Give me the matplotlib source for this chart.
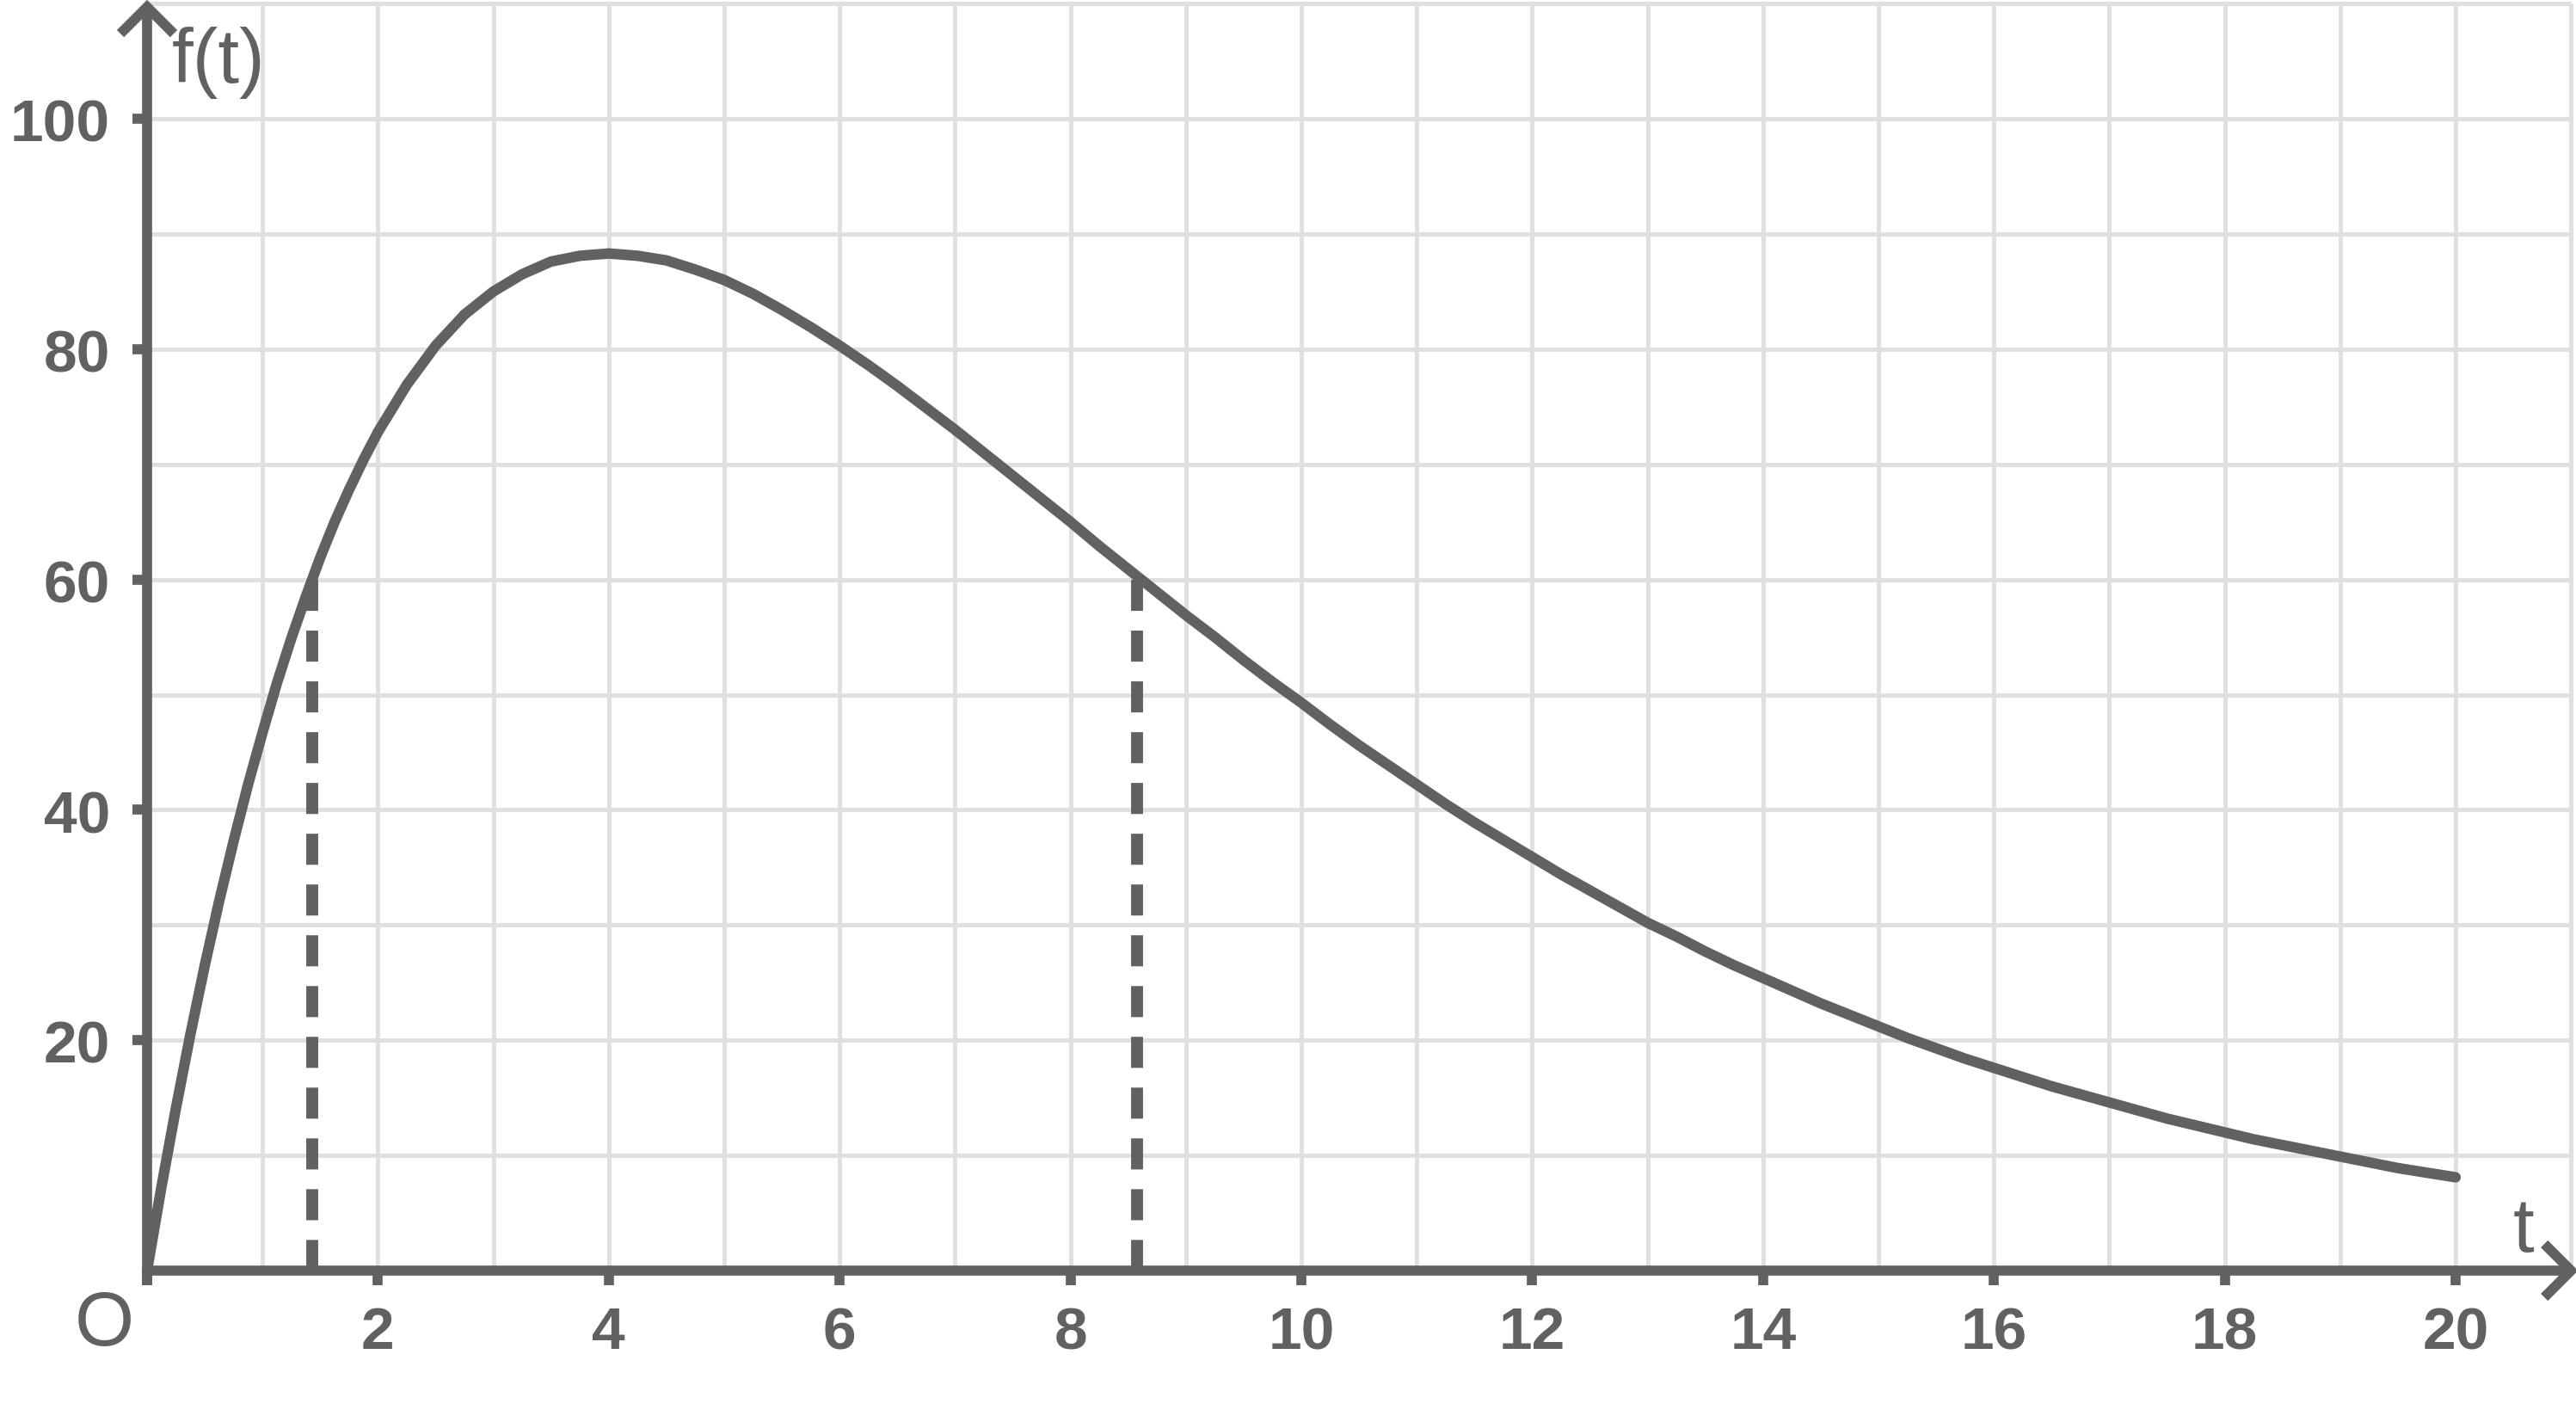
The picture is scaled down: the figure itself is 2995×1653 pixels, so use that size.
import matplotlib
matplotlib.use("Agg")
import matplotlib.pyplot as plt

# ---- data ----
t_values = [0, 0.125, 0.25, 0.375, 0.5, 0.625, 0.75, 0.875, 1, 1.125, 1.25, 1.375, 1.5,
            1.625, 1.75, 1.875, 2, 2.25, 2.5, 2.75, 3, 3.25, 3.5, 3.75, 4, 4.25, 4.5,
            4.75, 5, 5.25, 5.5, 5.75, 6, 6.25, 6.5, 6.75, 7, 7.25, 7.5, 7.75, 8, 8.25,
            8.5, 8.75, 9, 9.25, 9.5, 9.75, 10, 10.25, 10.5, 10.75, 11, 11.25, 11.5,
            11.75, 12, 12.25, 12.5, 12.75, 13, 13.25, 13.5, 13.75, 14, 14.25, 14.5,
            14.75, 15, 15.25, 15.5, 15.75, 16, 16.25, 16.5, 16.75, 17, 17.25, 17.5,
            17.75, 18, 18.25, 18.5, 18.75, 19, 19.25, 19.5, 19.75, 20]
f_values = [0, 7.3, 14.1, 20.5, 26.5, 32.1, 37.3, 42.2, 46.7, 51.0, 54.9, 58.5, 61.9,
            65.0, 67.8, 70.4, 72.8, 76.9, 80.3, 83.0, 85.0, 86.5, 87.6, 88.1, 88.3, 88.1,
            87.7, 86.9, 86.0, 84.8, 83.4, 81.9, 80.3, 78.6, 76.8, 74.9, 73.0, 71.0,
            69.0, 67.0, 65.0, 62.9, 60.9, 58.9, 56.9, 55.0, 53.0, 51.1, 49.3, 47.4,
            45.6, 43.9, 42.2, 40.5, 38.9, 37.4, 35.9, 34.4, 33.0, 31.6, 30.2, 29.0,
            27.7, 26.5, 25.4, 24.3, 23.2, 22.2, 21.2, 20.2, 19.3, 18.4, 17.6, 16.8,
            16.0, 15.3, 14.6, 13.9, 13.2, 12.6, 12.0, 11.4, 10.9, 10.4, 9.9, 9.4,
            8.9, 8.5, 8.1]
dashed_t = [1.43, 8.58]
dashed_level = 60
x_ticks = [2, 4, 6, 8, 10, 12, 14, 16, 18, 20]
y_ticks = [20, 40, 60, 80, 100]
x_grid = list(range(0, 22))
y_grid = list(range(10, 111, 10))

DARK = "#616161"
GRID = "#E0E0E0"

W, H = 2995, 1653
fig = plt.figure(figsize=(W / 100, H / 100), dpi=100)
ax = fig.add_axes([0, 0, 1, 1])
ax.set_axis_off()

# pixel mapping: x0=171 px, 134.2 px/unit ; y0=1477 px, 13.39 px/unit
PX_X, PX_Y = 134.2, 13.39
ax.set_xlim(-171 / PX_X, (W - 171) / PX_X)
ax.set_ylim(-(H - 1477) / PX_Y, 1477 / PX_Y)

# grid
ax.vlines(x_grid[1:], 0, 110, colors=GRID, linewidth=3.6, zorder=1)
ax.hlines(y_grid, 0, 21, colors=GRID, linewidth=3.6, zorder=1)

# axes
lw_ax = 8.4
ax.plot([0, 21.0], [0, 0], color=DARK, lw=lw_ax, solid_capstyle="butt", zorder=3)
ax.plot([0, 0], [-17 / PX_Y, 109.7], color=DARK, lw=lw_ax, solid_capstyle="butt", zorder=3)
arm_x = 31 / PX_X
arm_y = 31 / PX_Y
# x arrow
ax.plot([21.0 - arm_x, 21.0, 21.0 - arm_x], [arm_y, 0, -arm_y], color=DARK, lw=lw_ax,
        solid_joinstyle="miter", solid_capstyle="butt", zorder=3)
# y arrow
ax.plot([-arm_x, 0, arm_x], [109.7 - arm_y, 109.7, 109.7 - arm_y], color=DARK, lw=lw_ax,
        solid_joinstyle="miter", solid_capstyle="butt", zorder=3)

# ticks
for xt in [0] + x_ticks:
    ax.plot([xt, xt], [0, -17 / PX_Y], color=DARK, lw=lw_ax, solid_capstyle="butt", zorder=3)
for yt in y_ticks:
    ax.plot([0, -17 / PX_X], [yt, yt], color=DARK, lw=lw_ax, solid_capstyle="butt", zorder=3)

# tick labels
tick_font = dict(family=["Liberation Sans", "DejaVu Sans"], fontsize=50, fontweight="bold", color=DARK)
for xt in x_ticks:
    ax.text(xt, -6.8, str(xt), ha="center", va="baseline", **tick_font)
for yt in y_ticks:
    ax.text(-43 / PX_X, yt - 2.0, str(yt), ha="right", va="baseline", **tick_font)

# axis labels
lab_font = dict(family=["Liberation Sans", "DejaVu Sans"], fontsize=64, color=DARK)
ax.text(29 / PX_X, 103.1, "f(t)", ha="left", va="baseline", **lab_font)
ax.text(20.50, 1.64, "t", ha="left", va="baseline", **lab_font)
ax.text(-50 / PX_X, -6.5, "O", ha="center", va="baseline", **lab_font)

# dashed lines
for td in dashed_t:
    ax.plot([td, td], [dashed_level, 0], color=DARK, lw=10, linestyle=(0, (2.6, 1.65)),
            dash_capstyle="butt", zorder=4)

# curve
ax.plot(t_values, f_values, color=DARK, lw=8.8, solid_capstyle="round",
        solid_joinstyle="round", zorder=5)

fig.savefig("out.png", dpi=100)
